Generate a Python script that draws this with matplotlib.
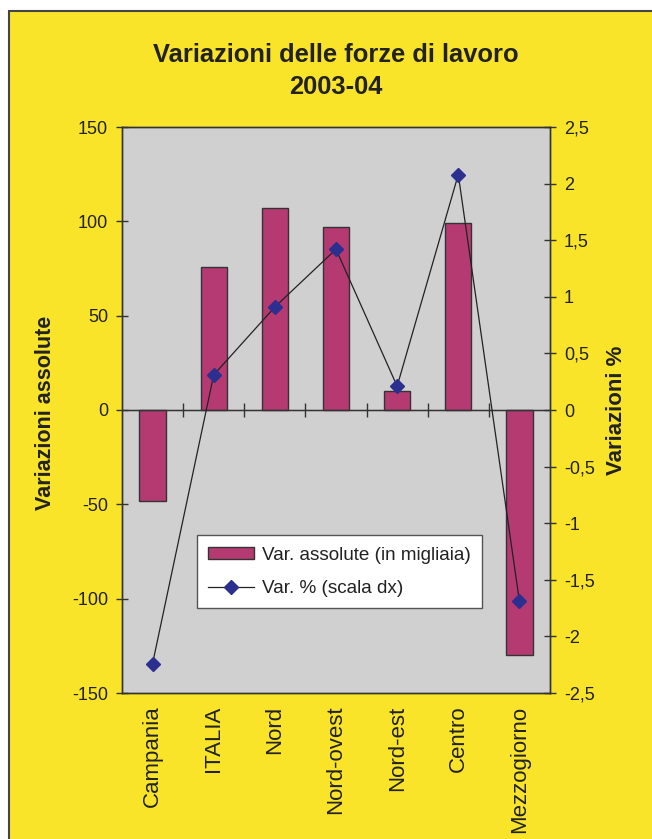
import numpy as np
import matplotlib
matplotlib.use("Agg")
import matplotlib.pyplot as plt
from matplotlib.patches import Rectangle
from matplotlib.ticker import FuncFormatter

plt.rcParams['font.family'] = ['Liberation Sans', 'DejaVu Sans']
plt.rcParams['axes.unicode_minus'] = False

# Variazioni delle forze di lavoro 2003-04
categorie = ['Campania', 'ITALIA', 'Nord', 'Nord-ovest', 'Nord-est', 'Centro', 'Mezzogiorno']
var_assolute = [-48, 76, 107, 97, 10, 99, -130]          # migliaia
var_perc = [-2.24, 0.31, 0.91, 1.42, 0.21, 2.08, -1.69]  # %

tick_sx = [-150, -100, -50, 0, 50, 100, 150]
tick_dx = [-2.5, -2, -1.5, -1, -0.5, 0, 0.5, 1, 1.5, 2, 2.5]

GIALLO = '#F9E42A'
GRIGIO = '#D0D0D0'
BARRE = '#B53A72'
BLU = '#2B2F90'
TESTO = '#222222'

W, H = 652, 839
fig = plt.figure(figsize=(W / 100, H / 100), dpi=100, facecolor='white')

# cornice gialla
fig.add_artist(Rectangle((9 / W, -0.01), 1.0, 1 - 11 / H + 0.01,
                         transform=fig.transFigure, facecolor=GIALLO,
                         edgecolor='#444444', linewidth=1.5, zorder=-1))

ax = fig.add_axes([122 / W, 1 - 693 / H, 428 / W, 566 / H])
ax.set_facecolor(GRIGIO)
ax2 = ax.twinx()

x = np.arange(len(categorie))
barre = ax.bar(x, var_assolute, width=0.43, color=BARRE, edgecolor='#333333',
               linewidth=1.0, label='Var. assolute (in migliaia)', zorder=2)
ax.axhline(0, color='#333333', linewidth=1.0, zorder=3)

linea, = ax2.plot(x, var_perc, color='#222222', linewidth=0.9, marker='D',
                  markersize=7, markerfacecolor=BLU, markeredgecolor=BLU,
                  label='Var. % (scala dx)', zorder=4)

ax.set_xlim(-0.5, len(categorie) - 0.5)
ax.set_ylim(-150, 150)
ax2.set_ylim(-2.5, 2.5)

ax.set_yticks(tick_sx)
ax2.set_yticks(tick_dx)
ax2.yaxis.set_major_formatter(FuncFormatter(lambda v, p: f'{v:g}'.replace('.', ',')))

ax.set_xticks(x)
ax.set_xticklabels(categorie, rotation=90, fontsize=16, color=TESTO)
ax.tick_params(axis='x', length=0, pad=9)
ax.tick_params(axis='y', direction='inout', length=8, width=1, pad=6,
               labelsize=13, labelcolor=TESTO, color='#333333')
ax2.tick_params(axis='y', direction='inout', length=8, width=1, pad=6,
                labelsize=13, labelcolor=TESTO, color='#333333')

# tacche di categoria sulla linea dello zero
sec = ax.secondary_xaxis(0.5)
sec.set_xticks(x[:-1] + 0.5)
sec.set_xticklabels([])
sec.tick_params(axis='x', direction='inout', length=9.5, width=1,
                color='#333333')
sec.spines['bottom'].set_visible(False)

for a in (ax, ax2):
    for s in a.spines.values():
        s.set_color('#333333')
        s.set_linewidth(1.0)

fig.text(336 / W, 1 - 62 / H, 'Variazioni delle forze di lavoro', ha='center',
         va='baseline', fontsize=18.4, fontweight='bold', color=TESTO)
fig.text(336 / W, 1 - 94 / H, '2003-04', ha='center',
         va='baseline', fontsize=18.4, fontweight='bold', color=TESTO)

fig.text(46 / W, 1 - 413 / H, 'Variazioni assolute', rotation=90, ha='center',
         va='center', fontsize=15.5, fontweight='bold', color=TESTO)
fig.text(617 / W, 1 - 410 / H, 'Variazioni %', rotation=90, ha='center',
         va='center', fontsize=16, fontweight='bold', color=TESTO)

leg = ax2.legend([barre, linea], [barre.get_label(), linea.get_label()],
                 loc='lower left', bbox_to_anchor=(0.175, 0.15),
                 borderaxespad=0, fontsize=13.6, frameon=True, fancybox=False,
                 framealpha=1, facecolor='white', edgecolor='#555555',
                 handlelength=2.4, handleheight=0.55, handletextpad=0.45,
                 labelspacing=0.85, borderpad=0.6)
leg.get_frame().set_linewidth(1.0)
for t in leg.get_texts():
    t.set_color(TESTO)

fig.savefig('out.png', dpi=100, facecolor=fig.get_facecolor())
